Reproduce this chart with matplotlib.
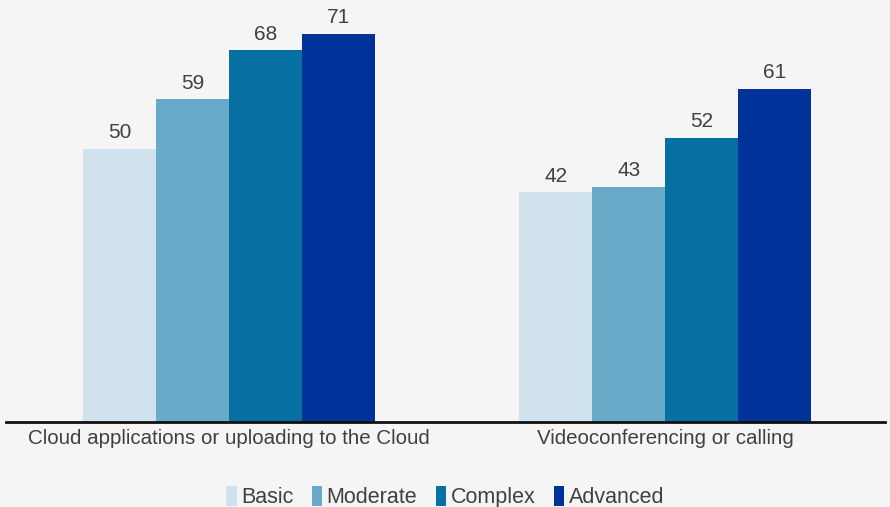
import numpy as np
import matplotlib.pyplot as plt

plt.rcParams['font.family'] = ['Liberation Sans', 'DejaVu Sans']

categories = ["Cloud applications or uploading to the Cloud", "Videoconferencing or calling"]
levels = ["Basic", "Moderate", "Complex", "Advanced"]
values = {
    "Basic": [50, 42],
    "Moderate": [59, 43],
    "Complex": [68, 52],
    "Advanced": [71, 61],
}
colors = ["#cfe2ee", "#69aac8", "#0770a2", "#003399"]

bg = "#f5f5f5"
txt = "#404040"

fig = plt.figure(figsize=(8.9, 5.07), dpi=100, facecolor=bg)
ax = fig.add_axes([6 / 890, 85 / 507, 879 / 890, 410 / 507])
ax.set_facecolor(bg)

x = np.arange(len(categories))
width = 0.1675
offsets = (np.arange(len(levels)) - 1.5) * width

for lvl, off, col in zip(levels, offsets, colors):
    bars = ax.bar(x + off, values[lvl], width, color=col, label=lvl)
    for b, v in zip(bars, values[lvl]):
        ax.text(b.get_x() + b.get_width() / 2, v + 1.2, str(v),
                ha="center", va="bottom", fontsize=15, color=txt)

ax.set_xlim(-0.512, 1.504)
ax.set_ylim(0, 75)
ax.set_yticks([])
ax.set_xticks(x)
ax.set_xticklabels(categories, fontsize=14.8, color=txt)
ax.tick_params(axis="x", length=0, pad=5)
for s in ["top", "right", "left"]:
    ax.spines[s].set_visible(False)
ax.spines["bottom"].set_linewidth(2)
ax.spines["bottom"].set_color("#111111")

fig.legend(loc="center", bbox_to_anchor=(0.5, 10 / 507), ncol=4, frameon=False,
           fontsize=15.5, handlelength=0.5, handleheight=1.1, handletextpad=0.2,
           columnspacing=0.85, labelcolor=txt)

fig.savefig("out.png", dpi=100, facecolor=bg)
